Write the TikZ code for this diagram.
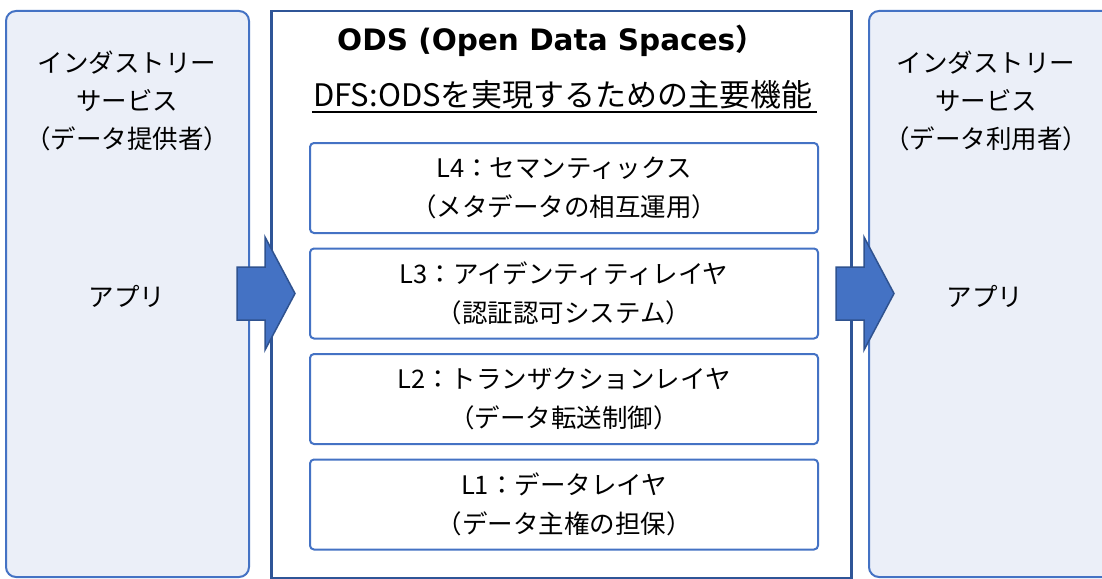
\documentclass[tikz,border=0pt]{standalone}
\usepackage{fontspec}
\setmainfont{Noto Sans CJK JP}
\newfontfamily\titlefont{DejaVu Sans}
\newfontfamily\jpfont{Noto Sans CJK JP}
\usetikzlibrary{calc}
\definecolor{panelfill}{RGB}{235,239,248}
\definecolor{accent}{RGB}{68,114,196}
\definecolor{darkblue}{RGB}{47,85,151}
\definecolor{arrowline}{RGB}{47,82,143}
\begin{document}
\begin{tikzpicture}[x=1pt,y=-1pt,
  panel/.style={draw=accent, line width=2pt, fill=panelfill, rounded corners=10pt, inner sep=0pt, anchor=north west},
  mainbox/.style={draw=darkblue, line width=2.5pt, fill=white, inner sep=0pt, anchor=north west},
  layer/.style={draw=accent, line width=2pt, fill=white, rounded corners=4pt, minimum width=508pt, minimum height=90pt, align=center, inner sep=0pt, font=\fontsize{25.5}{39}\selectfont},
  ptext/.style={align=center, font=\fontsize{25.5}{38}\selectfont, inner sep=0pt},
  blockarrow/.style={draw=arrowline, fill=accent, line width=1.5pt, line join=miter}]
\useasboundingbox (0,0) rectangle (1102,578);
\fill[white] (0,0) rectangle (1102,578);
% side panels
\node[panel, minimum width=243pt, minimum height=566pt] (lp) at (5,10) {};
\node[panel, minimum width=250pt, minimum height=566pt] (rp) at (868,10) {};
% main box
\node[mainbox, minimum width=580pt, minimum height=567pt] (ods) at (270,10) {};
% panel texts
\node[ptext] (lt) at (127,101) {インダストリー\\サービス\\（データ提供者）};
\node[ptext] (la) at (127,296) {アプリ};
\node[ptext] (rt) at (986,101) {インダストリー\\サービス\\（データ利用者）};
\node[ptext] (ra) at (985,296) {アプリ};
% title and subtitle
\node[anchor=base, inner sep=0pt, font=\titlefont\bfseries\fontsize{29.5}{34}\selectfont] (title) at (551,51) {ODS (Open Data Spaces\jpfont ）};
\node[anchor=base, inner sep=0pt, font=\fontsize{31}{36}\selectfont] (sub) at (563,106) {DFS:ODSを実現するための主要機能};
\draw[line width=1.5pt] ($(sub.base west)+(-1,6)$) -- ($(sub.base east)+(4,6)$);
% layers
\node[layer] (l4) at (564,188) {L4：セマンティックス\\（メタデータの相互運用）};
\node[layer] (l3) at (564,293.5) {L3：アイデンティティレイヤ\\（認証認可システム）};
\node[layer] (l2) at (564,399) {L2：トランザクションレイヤ\\（データ転送制御）};
\node[layer] (l1) at (564,504.5) {L1：データレイヤ\\（データ主権の担保）};
% block arrows
\coordinate (a1) at (266,293.5);
\coordinate (a2) at (865,293.5);
\foreach \c in {a1,a2}{
  \draw[blockarrow, shift={(\c)}] (-29,-26.5) -- (-1,-26.5) -- (-1,-56.5) -- (29,0) -- (-1,56.5) -- (-1,26.5) -- (-29,26.5) -- cycle;
}
\end{tikzpicture}
\end{document}
